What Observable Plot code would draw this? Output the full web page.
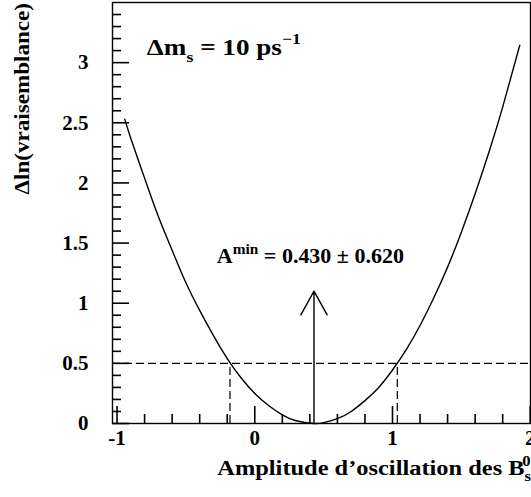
<!DOCTYPE html>
<html><head><meta charset="utf-8">
<script src="https://cdn.jsdelivr.net/npm/d3@7"></script>
<script src="https://cdn.jsdelivr.net/npm/@observablehq/plot@0.6"></script>
<style>
body{margin:0;background:#fff}
#chart svg{display:block}
</style>
</head><body><div id="chart"></div>
<script>
// Likelihood scan
const amplitude = [-0.944, -0.9, -0.8, -0.7, -0.6, -0.5, -0.4, -0.3, -0.2, -0.1, 0.0, 0.1, 0.2, 0.3, 0.43, 0.5, 0.6, 0.7, 0.8, 0.9, 1.0, 1.1, 1.2, 1.3, 1.4, 1.5, 1.6, 1.7, 1.8, 1.924];
const deltaLnL  = [2.53, 2.37, 2.04, 1.72, 1.44, 1.17, 0.94, 0.73, 0.54, 0.38, 0.25, 0.15, 0.072, 0.023, 0, 0.007, 0.04, 0.10, 0.19, 0.30, 0.445, 0.615, 0.815, 1.045, 1.30, 1.59, 1.91, 2.255, 2.63, 3.145];

const xMajorTicks = [-1, 0, 1, 2];
const xMinorTicks = [-0.8, -0.6, -0.4, -0.2, 0.2, 0.4, 0.6, 0.8, 1.2, 1.4, 1.6, 1.8];
const yMajorTicks = [0, 0.5, 1, 1.5, 2, 2.5, 3];
const yMinorTicks = [0.1, 0.2, 0.3, 0.4, 0.6, 0.7, 0.8, 0.9, 1.1, 1.2, 1.3, 1.4, 1.6, 1.7, 1.8, 1.9, 2.1, 2.2, 2.3, 2.4, 2.6, 2.7, 2.8, 2.9, 3.1, 3.2, 3.3, 3.4];

const aMin = 0.43;
const arrowTop = 1.1;
const crossLevel = [0.5];
const crossings = [-0.18, 1.035];

const W = 531, H = 497;
const mL = 112, mR = 1, mT = 2, mB = 74;
const plotW = W - mL - mR, plotH = H - mT - mB;
const font = "'Liberation Serif', 'Times New Roman', serif";

const scan = amplitude.map((a, i) => ({a, v: deltaLnL[i]}));
const tickColor = "black";

const plot = Plot.plot({
  width: W, height: H,
  marginLeft: mL, marginRight: mR, marginTop: mT, marginBottom: mB,
  style: {fontFamily: font, fontSize: "21px", fontWeight: "bold", background: "white", color: "black"},
  x: {domain: [-1.033, 2.002]},
  y: {domain: [0, 3.5]},
  marks: [
    Plot.ruleY(crossLevel, {stroke: "black", strokeWidth: 1.2, strokeDasharray: "8,4"}),
    Plot.ruleX(crossings, {y1: 0, y2: crossLevel[0], stroke: "black", strokeWidth: 1.2, strokeDasharray: "8,4"}),
    Plot.ruleY(yMinorTicks, {insetRight: plotW - 9, stroke: tickColor, strokeWidth: 1.6}),
    Plot.ruleX(xMinorTicks, {insetTop: plotH - 9, stroke: tickColor, strokeWidth: 1.6}),
    Plot.axisX({ticks: xMajorTicks, tickSize: -17, tickPadding: 24, stroke: tickColor, strokeWidth: 1.6, tickFormat: d => String(d), label: null}),
    Plot.axisY({ticks: yMajorTicks, tickSize: -17, tickPadding: 41, stroke: tickColor, strokeWidth: 1.6, tickFormat: d => String(d), label: null}),
    Plot.line(scan, {x: "a", y: "v", curve: "natural", stroke: "black", strokeWidth: 1.4}),
    Plot.arrow([{x: aMin, y1: 0, y2: arrowTop}], {x1: "x", x2: "x", y1: "y1", y2: "y2", stroke: "black", strokeWidth: 1.4, headLength: 29, headAngle: 58}),
    Plot.frame({stroke: "black", strokeWidth: 1.4})
  ]
});
document.getElementById("chart").append(plot);

const svg = d3.select(plot);
const xs = plot.scale("x"), ys = plot.scale("y");

function label(px, py, size, sx, anchor, rot) {
  const g = svg.append("g").attr("transform", `translate(${px},${py}) rotate(${rot}) scale(${sx},1)`);
  return g.append("text").attr("x", 0).attr("y", 0)
    .attr("text-anchor", anchor)
    .attr("font-family", font).attr("font-weight", "bold").attr("font-size", size).attr("fill", "black");
}

const t1 = label(xs.apply(-0.78), ys.apply(3.06), 23, 1.18, "start", 0);
t1.append("tspan").text("Δm");
t1.append("tspan").attr("font-size", 15).attr("dy", 7).text("s");
t1.append("tspan").attr("dy", -7).text(" = 10 ps");
t1.append("tspan").attr("font-size", 15).attr("dy", -11).text("−1");

const t2 = label(xs.apply(-0.272), ys.apply(1.333), 20, 1.1, "start", 0);
t2.append("tspan").text("A");
t2.append("tspan").attr("font-size", 14).attr("dy", -9).text("min");
t2.append("tspan").attr("dy", 9).text(" = 0.430 ± 0.620");

label(29, 3, 21, 1.1, "end", -90).text("Δln(vraisemblance)");

const t3 = label(531, 475, 22, 1.11, "end", 0);
t3.append("tspan").text("Amplitude d’oscillation des B");
t3.append("tspan").attr("font-size", 15).attr("dy", 6).text("s");
t3.append("tspan").attr("font-size", 15).attr("dx", -8).attr("dy", -15).text("0");
</script>
</body></html>
